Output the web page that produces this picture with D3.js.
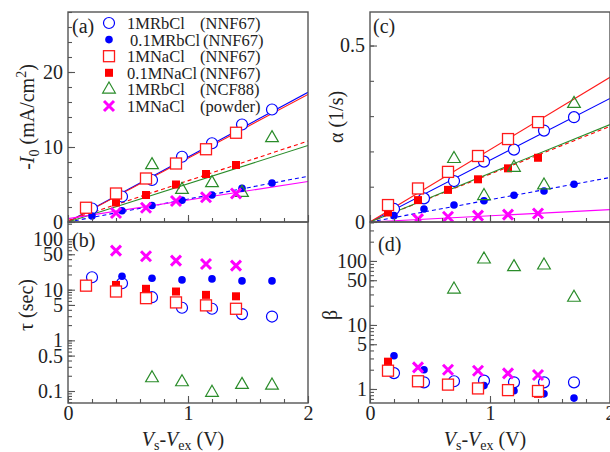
<!DOCTYPE html>
<html lang="en">
<head>
<meta charset="utf-8">
<title>I0, tau, alpha, beta vs Vs-Vex</title>
<script src="https://d3js.org/d3.v7.min.js"></script>
<style>
  body { margin: 0; background: #fff; }
  svg { display: block; }
  text { font-family: "Liberation Serif", "Times New Roman", serif; fill: #222; }
  .frame { fill: none; stroke: #555; stroke-width: 1.4; }
</style>
</head>
<body>
<svg id="chart" width="610" height="452"></svg>
<script>
// ---- values ----
// applied voltage Vs-Vex (V) of each sample
var vRb1  = [0.2, 0.45, 0.7, 0.95, 1.2, 1.45, 1.7];
var vRb01 = [0.2, 0.45, 0.7, 0.95, 1.2, 1.45, 1.7];
var vNa1  = [0.15, 0.4, 0.65, 0.9, 1.15, 1.4];
var vNa01 = [0.15, 0.4, 0.65, 0.9, 1.15, 1.4];
var vNcf  = [0.7, 0.95, 1.2, 1.45, 1.7];
var vPow  = [0.4, 0.65, 0.9, 1.15, 1.4];

// (a) -I0 (mA/cm2)
var i0Rb1  = [1.8, 3.4, 5.6, 8.7, 10.5, 13.0, 15.0];
var i0Rb01 = [0.8, 1.5, 2.2, 2.9, 3.6, 4.5, 5.2];
var i0Na1  = [1.9, 3.8, 5.8, 7.8, 9.7, 11.9];
var i0Na01 = [1.7, 2.6, 3.6, 5.0, 6.4, 7.6];
var i0Ncf  = [7.6, 4.3, 5.2, 3.9, 11.2];
var i0Pow  = [1.2, 1.9, 2.8, 3.3, 3.8];

// (b) tau (sec)
var tauRb1  = [17.6, 13.4, 7.1, 4.4, 4.2, 3.3, 2.95];
var tauRb01 = [null, 18.4, 16.8, 15.6, 16.3, 14.9, 14.9];
var tauNa1  = [12.0, 9.2, 6.8, 5.6, 4.9, 4.2];
var tauNa01 = [12.5, 12.4, 10.4, 9.2, 7.9, 7.4];
var tauNcf  = [0.18, 0.15, 0.093, 0.133, 0.129];
var tauPow  = [59, 45.6, 37.4, 32.2, 29.8];

// (c) alpha (1/s)
var alphaRb1  = [0.037, 0.067, 0.116, 0.171, 0.205, 0.259, 0.297];
var alphaRb01 = [0.018, 0.037, 0.048, 0.060, 0.076, 0.088, 0.107];
var alphaNa1  = [0.048, 0.095, 0.142, 0.187, 0.235, 0.283];
var alphaNa01 = [0.027, 0.062, 0.091, 0.121, 0.152, 0.182];
var alphaNcf  = [0.179, 0.074, 0.154, 0.104, 0.335];
var alphaPow  = [0.008, 0.015, 0.018, 0.021, 0.024];

// (d) beta
var betaRb1  = [1.77, 1.27, 1.32, 1.35, 1.27, 1.27, 1.27];
var betaRb01 = [3.3, 2.0, null, 1.13, 0.94, 0.84, 0.72];
var betaNa1  = [1.93, 1.32, 1.17, 1.02, 0.96, 0.93];
var betaNa01 = [2.67, 1.3, 1.15, 1.0, 0.95, 0.84];
var betaNcf  = [36, 106, 80.6, 85.5, 26.8];
var betaPow  = [2.18, 2.0, 1.93, 1.75, 1.65];

// fitted lines, value at Vs-Vex = 0 and 2 V
var fitV = [0, 2];
var fitI0Rb1  = [0.0, 17.3];
var fitI0Rb01 = [0.0, 6.1];
var fitI0Na1  = [0.0, 17.0];
var fitI0Na01 = [0.2, 10.8];
var fitI0Ncf  = [0.0, 10.2];
var fitI0Pow  = [0.45, 5.4];
var fitAlphaRb1  = [0, 0.35];
var fitAlphaRb01 = [0, 0.126];
var fitAlphaNa1  = [0, 0.41];
var fitAlphaNa01 = [0, 0.271];
var fitAlphaNcf  = [0, 0.276];
var fitAlphaPow  = [0, 0.035];

// axis tick labels
var xLabels = [0, 1, 2];
var i0Labels = [0, 10, 20];
var tauLabels = [0.1, 0.5, 1, 5, 10, 50, 100];
var alphaLabels = [0, 0.5];
var betaLabels = [1, 5, 10, 50, 100];

var series = [
  {name: "1MRbCl", sample: "(NNF67)", v: vRb1, i0: i0Rb1, tau: tauRb1, alpha: alphaRb1, beta: betaRb1,
   fitI0: fitI0Rb1, fitAlpha: fitAlphaRb1, mark: "circleOpen", color: "#0000ff", dash: null, dx: 0},
  {name: "0.1MRbCl", sample: "(NNF67)", v: vRb01, i0: i0Rb01, tau: tauRb01, alpha: alphaRb01, beta: betaRb01,
   fitI0: fitI0Rb01, fitAlpha: fitAlphaRb01, mark: "circleFilled", color: "#0000ff", dash: "4,3", dx: 3},
  {name: "1MNaCl", sample: "(NNF67)", v: vNa1, i0: i0Na1, tau: tauNa1, alpha: alphaNa1, beta: betaNa1,
   fitI0: fitI0Na1, fitAlpha: fitAlphaNa1, mark: "squareOpen", color: "#ff1a1a", dash: null, dx: 0},
  {name: "0.1MNaCl", sample: "(NNF67)", v: vNa01, i0: i0Na01, tau: tauNa01, alpha: alphaNa01, beta: betaNa01,
   fitI0: fitI0Na01, fitAlpha: fitAlphaNa01, mark: "squareFilled", color: "#ff0000", dash: "4,3", dx: 0},
  {name: "1MRbCl", sample: "(NCF88)", v: vNcf, i0: i0Ncf, tau: tauNcf, alpha: alphaNcf, beta: betaNcf,
   fitI0: fitI0Ncf, fitAlpha: fitAlphaNcf, mark: "triangle", color: "#2a8c2a", dash: null, dx: 0},
  {name: "1MNaCl", sample: "(powder)", v: vPow, i0: i0Pow, tau: tauPow, alpha: alphaPow, beta: betaPow,
   fitI0: fitI0Pow, fitAlpha: fitAlphaPow, mark: "cross", color: "#ff00ff", dash: null, dx: 0}
];
// markers drawn in this order so open squares sit on top of the filled ones
var drawOrder = [0, 1, 3, 2, 4, 5];

var svg = d3.select("#chart");
var FONT = 20;

var xA = d3.scaleLinear().domain([0, 2]).range([68, 308]);
var xC = d3.scaleLinear().domain([0, 2]).range([370, 610]);
var yA = d3.scaleLinear().domain([0, 28]).range([222, 12]);
var yB = d3.scaleLog().domain([0.058, 216.6]).range([403, 222]);
var yC = d3.scaleLinear().domain([0, 0.595]).range([222, 12]);
var yD = d3.scaleLog().domain([0.604, 406]).range([403, 222]);

/** put one marker of a series at (0,0) of group g */
function marker(g, s) {
  if (s.mark == "circleOpen") {
    g.append("circle").attr("r", 5.5).attr("fill", "#fff").attr("stroke", s.color).attr("stroke-width", 1.2);
  } else if (s.mark == "circleFilled") {
    g.append("circle").attr("r", 3.8).attr("fill", s.color);
  } else if (s.mark == "squareOpen") {
    g.append("rect").attr("x", -5.5).attr("y", -5.5).attr("width", 11).attr("height", 11)
      .attr("fill", "#fff").attr("stroke", s.color).attr("stroke-width", 1.3);
  } else if (s.mark == "squareFilled") {
    g.append("rect").attr("x", -4).attr("y", -4).attr("width", 8).attr("height", 8).attr("fill", s.color);
  } else if (s.mark == "triangle") {
    g.append("path").attr("d", d3.symbol(d3.symbolTriangle, 70)()).attr("fill", "none")
      .attr("stroke", s.color).attr("stroke-width", 1.2);
  } else {
    g.append("path").attr("d", "M-5,-5L5,5M-5,5L5,-5").attr("stroke", s.color).attr("stroke-width", 3);
  }
}

function logMinor(scale) {
  var d = scale.domain(), out = [];
  for (var e = -2; e <= 3; e++) {
    for (var m = 1; m <= 9; m++) {
      var v = m * Math.pow(10, e);
      if (v >= d[0] && v <= d[1]) out.push(v);
    }
  }
  return out;
}

function styleAxis(g) {
  g.attr("font-size", null).attr("font-family", null);
  g.selectAll(".domain").remove();
  g.selectAll(".tick line").attr("stroke", "#555").attr("stroke-width", 1.1);
  g.selectAll("text").attr("font-size", FONT).attr("fill", "#222");
}

/** one panel: frame, axes, fit lines and points */
function panel(id, x, y, key, fitKey, yMajor, yMinor, yPad, showX, tag, tagPos) {
  var top = y.range()[1], bottom = y.range()[0], left = x.range()[0];
  svg.append("clipPath").attr("id", "clip" + id)
    .append("rect").attr("x", left).attr("y", top).attr("width", 240).attr("height", bottom - top);

  var plot = svg.append("g").attr("clip-path", "url(#clip" + id + ")");

  if (fitKey) {
    var line = d3.line().x(function(d) { return x(d[0]); }).y(function(d) { return y(d[1]); });
    series.forEach(function(s) {
      plot.append("path")
        .datum(fitV.map(function(v, i) { return [v, s[fitKey][i]]; }))
        .attr("d", line)
        .attr("fill", "none")
        .attr("stroke", s.color)
        .attr("stroke-width", 1.1)
        .attr("stroke-dasharray", s.dash);
    });
  }

  drawOrder.forEach(function(k) {
    var s = series[k];
    s.v.forEach(function(v, i) {
      var val = s[key][i];
      if (val == null) return;
      marker(plot.append("g").attr("transform", "translate(" + x(v) + "," + y(val) + ")"), s);
    });
  });

  // y axis, ticks pointing in
  var ya = svg.append("g").attr("transform", "translate(" + left + ",0)");
  ya.call(d3.axisLeft(y).tickValues(yMinor).tickSize(-4).tickFormat(""));
  ya.call(styleAxis);
  var yb = svg.append("g").attr("transform", "translate(" + left + ",0)");
  yb.call(d3.axisLeft(y).tickValues(yMajor).tickSize(-7).tickPadding(yPad).tickFormat(function(d) { return d; }));
  yb.call(styleAxis);

  // x axis along the bottom
  var xa = svg.append("g").attr("transform", "translate(0," + bottom + ")");
  xa.call(d3.axisBottom(x).tickValues(d3.range(0.2, 2, 0.2)).tickSize(-4).tickFormat(""));
  xa.call(styleAxis);
  var xb = svg.append("g").attr("transform", "translate(0," + bottom + ")");
  xb.call(d3.axisBottom(x).tickValues(xLabels).tickSize(-7).tickPadding(3)
    .tickFormat(showX ? function(d) { return d; } : ""));
  xb.call(styleAxis);

  svg.append("rect").attr("class", "frame")
    .attr("x", left).attr("y", top).attr("width", 240).attr("height", bottom - top);

  svg.append("text").attr("x", tagPos[0]).attr("y", tagPos[1]).attr("font-size", 20).text(tag);
}

panel("a", xA, yA, "i0", "fitI0", i0Labels, d3.range(0, 28.1, 2), 5, false, "(a)", [72, 33]);
panel("b", xA, yB, "tau", null, tauLabels, logMinor(yB), 5, true, "(b)", [72, 247]);
panel("c", xC, yC, "alpha", "fitAlpha", alphaLabels, d3.range(0, 0.6, 0.1), 5, false, "(c)", [373, 33]);
panel("d", xC, yD, "beta", null, betaLabels, logMinor(yD), 3, true, "(d)", [378, 251]);

// axis titles
function yTitle(cx, cy, parts) {
  var t = svg.append("text").attr("text-anchor", "middle").attr("font-size", 20)
    .attr("transform", "translate(" + cx + "," + cy + ") rotate(-90)");
  parts.forEach(function(p) {
    var ts = t.append("tspan").text(p[0]);
    if (p[1] == "i") ts.attr("font-style", "italic");
    if (p[1] == "sub") ts.attr("font-size", 14).attr("dy", 5);
    if (p[1] == "up") ts.attr("font-size", 14).attr("dy", -8);
    if (p[2]) ts.attr("dy", p[2]);
  });
}
yTitle(34, 117, [["-"], ["I", "i"], ["0", "sub"], [" (mA/cm", null, -5], ["2", "up"], [")", null, 8]]);
yTitle(33, 305, [["\u03c4 (sec)"]]);
yTitle(343, 117, [["\u03b1 (1/s)"]]);
yTitle(337, 315, [["\u03b2"]]);

function xTitle(cx) {
  var t = svg.append("text").attr("x", cx).attr("y", 446).attr("text-anchor", "middle").attr("font-size", 20);
  t.append("tspan").attr("font-style", "italic").text("V");
  t.append("tspan").attr("font-size", 14).attr("dy", 4).text("s");
  t.append("tspan").attr("dy", -4).text("-");
  t.append("tspan").attr("font-style", "italic").text("V");
  t.append("tspan").attr("font-size", 14).attr("dy", 4).text("ex");
  t.append("tspan").attr("dy", -4).text(" (V)");
}
xTitle(183);
xTitle(485);

// legend inside panel (a)
var legend = svg.append("g");
series.forEach(function(s, i) {
  var ly = 23 + i * 16.6;
  marker(legend.append("g").attr("transform", "translate(109," + ly + ")"), s);
  legend.append("text").attr("x", 127 + s.dx).attr("y", ly + 6).attr("font-size", 16.5).text(s.name);
  legend.append("text").attr("x", 200 + s.dx).attr("y", ly + 6).attr("font-size", 16.5).text(s.sample);
});
</script>
</body>
</html>
